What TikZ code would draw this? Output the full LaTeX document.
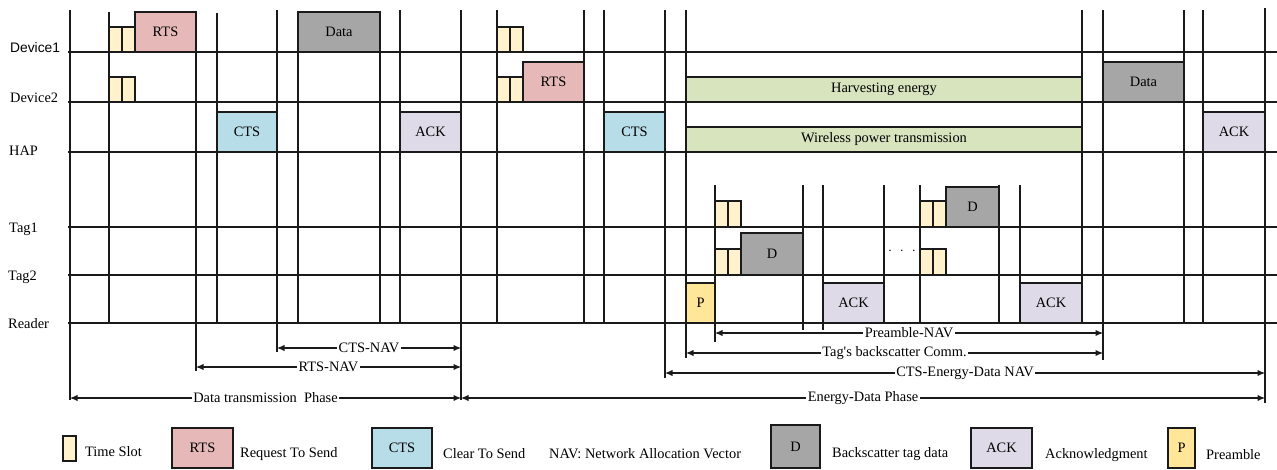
\documentclass[tikz,border=0pt]{standalone}
\usepackage{fontspec}
\setmainfont{Liberation Serif}
\newfontfamily\arialfont{Liberation Sans}
\usetikzlibrary{arrows.meta}
\definecolor{slotc}{HTML}{FFF2CC}
\definecolor{rtsc}{HTML}{E6B9B8}
\definecolor{ctsc}{HTML}{B7DEE8}
\definecolor{datac}{HTML}{A6A6A6}
\definecolor{ackc}{HTML}{DEDAE8}
\definecolor{grnc}{HTML}{D7E4BD}
\definecolor{prec}{HTML}{FFE699}
\definecolor{linec}{HTML}{1A1A1A}
\newcommand\mkbox[7]{\node[#2, minimum width={(#4)-(#3)}, minimum height={(#6)-(#5)}] (#1) at ({((#3)+(#4))/2},{((#5)+(#6))/2}) {#7};}
\begin{document}
\begin{tikzpicture}[x=1pt,y=-1pt,
  font=\fontsize{14.4}{16}\selectfont,
  tl/.style={line width=1.2pt, draw=linec},
  bx/.style={draw=linec, line width=1.3pt, inner sep=0pt, anchor=center},
  slot/.style={bx, fill=slotc},
  rtsb/.style={bx, fill=rtsc},
  ctsb/.style={bx, fill=ctsc},
  datab/.style={bx, fill=datac},
  ackb/.style={bx, fill=ackc},
  grnb/.style={bx, fill=grnc},
  preb/.style={bx, fill=prec},
  rowlbl/.style={anchor=west, inner sep=0pt},
  nav/.style={line width=1.1pt, draw=linec, {Latex[length=7.5pt,width=6.5pt]}-{Latex[length=7.5pt,width=6.5pt]}},
  lbl/.style={fill=white, inner sep=1.5pt},
  legtxt/.style={anchor=west, inner sep=0pt}
]
\useasboundingbox (0,0) rectangle (1277,470);
\fill[white] (0,0) rectangle (1277,470);

% row labels
\node[rowlbl] (lD1) at (10,48) {\arialfont\fontsize{13.8}{15}\selectfont Device1};
\node[rowlbl] (lD2) at (10,98) {Device2};
\node[rowlbl] (lHAP) at (9,151) {HAP};
\node[rowlbl] (lT1) at (9,229) {Tag1};
\node[rowlbl] (lT2) at (8,277) {Tag2};
\node[rowlbl] (lR) at (8,324) {Reader};

% horizontal time lines
\foreach \yy in {52,102,152,227,275,323}{
  \draw[tl] (68,\yy) -- (1277,\yy);
}

% vertical lines: x/top/bottom
\foreach \xx/\ta/\tb in {70/10/400, 109/12/323, 196/12/371, 217/13/323, 277/10/352,
  298/12/323, 380/12/323, 400/10/323, 461/10/400, 497/10/323, 584/10/323, 604/10/323,
  665/10/378, 686/10/358, 715/185/342, 803/185/330, 823/185/330, 884/185/323,
  920/185/323, 999/185/323, 1020/185/323, 1082/10/323, 1103/10/360, 1184/10/323,
  1203/10/323, 1265/8/403}{
  \draw[tl] (\xx,\ta) -- (\xx,\tb);
}

% Device1 row
\mkbox{s1a}{slot}{109}{122}{27}{52}{}
\mkbox{s1b}{slot}{122}{135}{27}{52}{}
\mkbox{rts1}{rtsb}{135}{196}{12}{52}{RTS}
\mkbox{data1}{datab}{298}{380}{12}{52}{Data}
\mkbox{s2a}{slot}{497}{510}{27}{52}{}
\mkbox{s2b}{slot}{510}{523}{27}{52}{}

% Device2 row
\mkbox{s3a}{slot}{109}{122}{77}{102}{}
\mkbox{s3b}{slot}{122}{135}{77}{102}{}
\mkbox{s4a}{slot}{497}{510}{77}{102}{}
\mkbox{s4b}{slot}{510}{523}{77}{102}{}
\mkbox{rts2}{rtsb}{523}{584}{62}{102}{RTS}
\mkbox{harv}{grnb}{686}{1082}{77}{102}{Harvesting energy}
\mkbox{data2}{datab}{1103}{1184}{62}{102}{Data}

% HAP row
\mkbox{cts1}{ctsb}{217}{277}{112}{152}{CTS}
\mkbox{ack1}{ackb}{400}{461}{112}{152}{ACK}
\mkbox{cts2}{ctsb}{604}{665}{112}{152}{CTS}
\mkbox{wpt}{grnb}{686}{1082}{127}{152}{Wireless power transmission}
\mkbox{ack2}{ackb}{1203}{1265}{112}{152}{ACK}

% Tag1 row
\mkbox{s5a}{slot}{715}{728}{201}{227}{}
\mkbox{s5b}{slot}{728}{741}{201}{227}{}
\mkbox{s6a}{slot}{920}{933}{201}{227}{}
\mkbox{s6b}{slot}{933}{946}{201}{227}{}
\mkbox{d2}{datab}{946}{999}{187}{227}{D}

% Tag2 row
\mkbox{s7a}{slot}{715}{728}{249}{275}{}
\mkbox{s7b}{slot}{728}{741}{249}{275}{}
\mkbox{d1}{datab}{741}{803}{233}{275}{D}
\mkbox{s8a}{slot}{920}{933}{249}{275}{}
\mkbox{s8b}{slot}{933}{946}{249}{275}{}
\node[inner sep=0pt] (dots) at (902,251) {$\cdot\,\,\cdot\,\,\cdot$};

% Reader row
\mkbox{pre}{preb}{686}{715}{283}{323}{P}
\mkbox{ack3}{ackb}{823}{884}{283}{323}{ACK}
\mkbox{ack4}{ackb}{1020}{1082}{283}{323}{ACK}

% NAV arrows
\coordinate (cnL) at (277,348); \coordinate (cnR) at (461,348);
\coordinate (rnL) at (196,367); \coordinate (rnR) at (461,367);
\coordinate (dpL) at (70,398);  \coordinate (dpR) at (461,398);
\coordinate (epL) at (461,398); \coordinate (epR) at (1265,398);
\coordinate (pnL) at (715,333); \coordinate (pnR) at (1103,333);
\coordinate (tbL) at (686,353); \coordinate (tbR) at (1103,353);
\coordinate (ceL) at (665,373); \coordinate (ceR) at (1265,373);

\draw[nav] (cnL) -- node[lbl] (tcn) {CTS-NAV} (cnR);
\draw[nav] (rnL) -- node[lbl] (trn) {RTS-NAV} (rnR);
\draw[nav] (dpL) -- node[lbl] (tdp) {Data transmission\ \ Phase} (dpR);
\draw[nav] (epL) -- node[lbl] (tep) {Energy\textbf{-}Data Phase} (epR);
\draw[nav] (pnL) -- node[lbl] (tpn) {Preamble-NAV} (pnR);
\draw[nav] (tbL) -- node[lbl] (ttb) {Tag\textquotesingle s backscatter Comm.} (tbR);
\draw[nav] (ceL) -- node[lbl] (tce) {CTS-Energy-Data NAV} (ceR);

% Legend
\mkbox{lgs}{slot}{63}{76}{436}{461}{}
\node[legtxt] (lgst) at (85,452) {Time Slot};
\mkbox{lgr}{rtsb}{172}{233}{428}{468}{RTS}
\node[legtxt] (lgrt) at (240,454) {Request To Send};
\mkbox{lgc}{ctsb}{372}{432}{428}{468}{CTS}
\node[legtxt] (lgct) at (443,454) {Clear To Send};
\node[legtxt] (lgn) at (549,454) {NAV: Network Allocation Vector};
\mkbox{lgd}{datab}{771}{820}{425}{468}{D}
\node[legtxt] (lgdt) at (832,454) {Backscatter tag data};
\mkbox{lga}{ackb}{971}{1032}{428}{468}{ACK}
\node[legtxt] (lgat) at (1045,455) {Acknowledgment};
\mkbox{lgp}{preb}{1168}{1195}{428}{468}{P}
\node[legtxt] (lgpt) at (1206,455) {Preamble};
\end{tikzpicture}
\end{document}
